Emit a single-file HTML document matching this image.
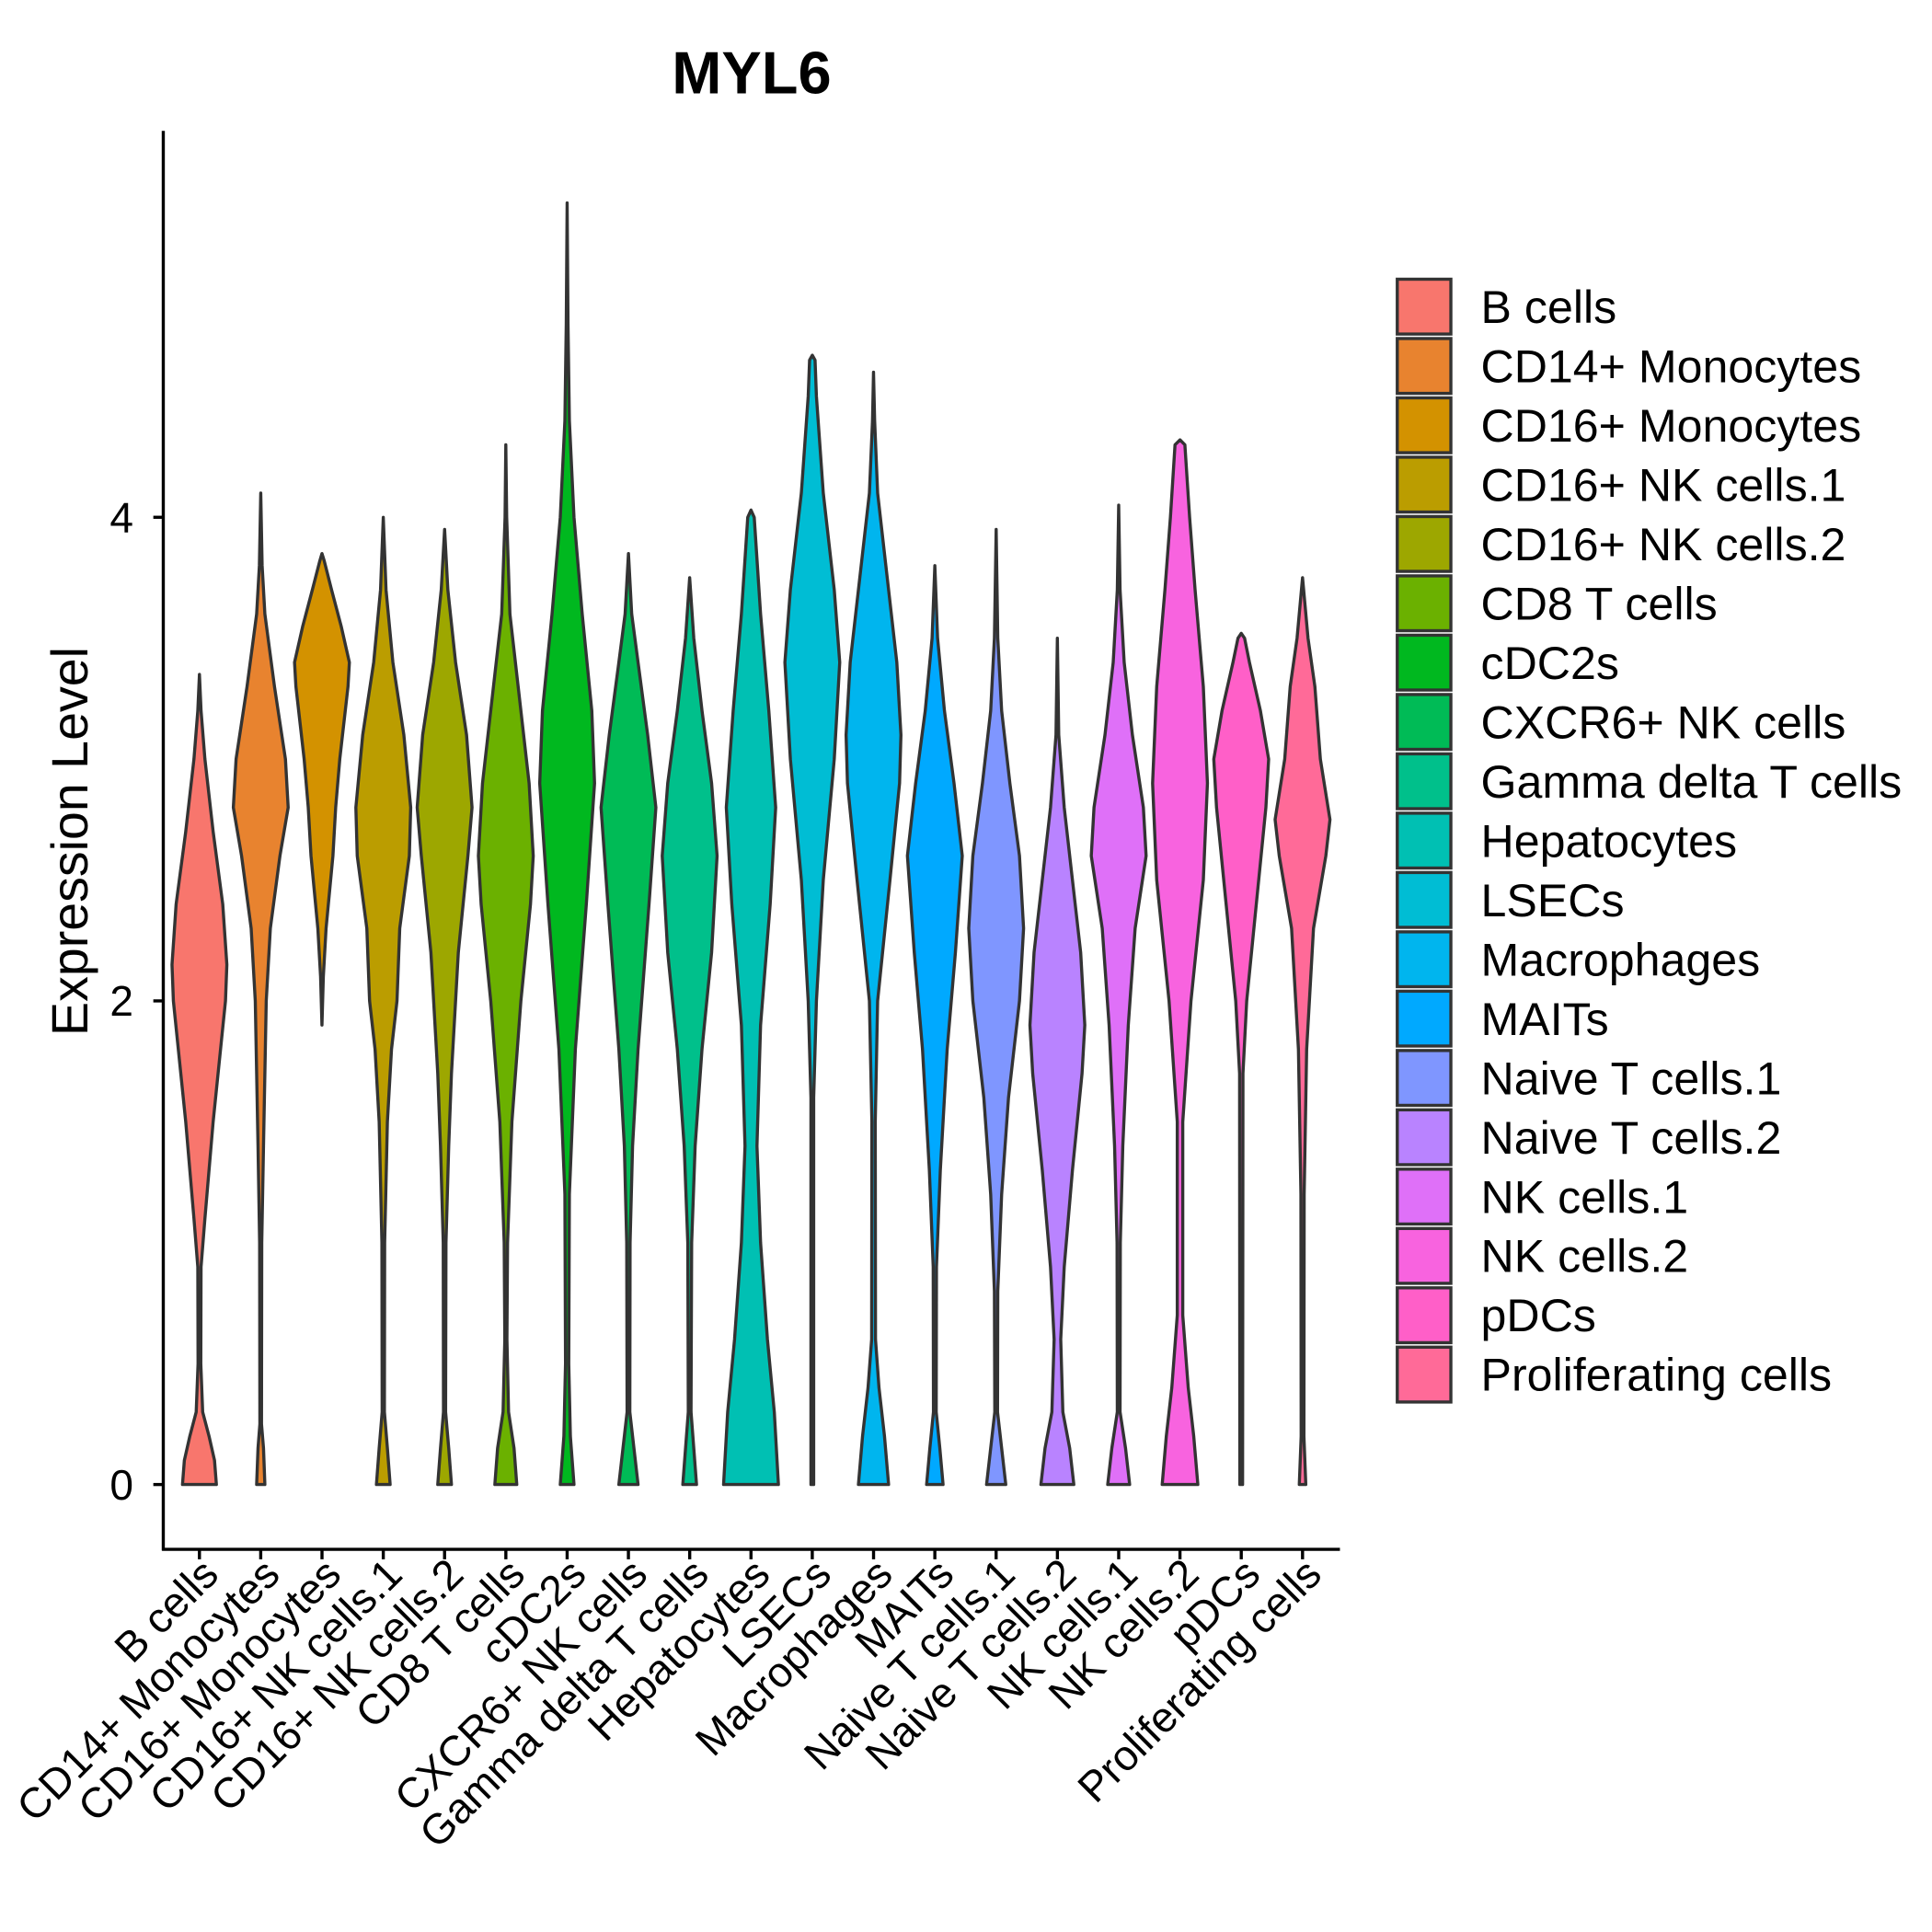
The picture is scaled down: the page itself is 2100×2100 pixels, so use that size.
<!DOCTYPE html>
<html><head><meta charset="utf-8"><style>
html,body{margin:0;padding:0;background:#fff}
svg{display:block;font-family:"Liberation Sans",Arial,sans-serif}
</style></head><body>
<svg id="chart" width="2100" height="2100" viewBox="0 0 1550 1550" xmlns="http://www.w3.org/2000/svg">
<rect width="1550" height="1550" fill="#fff"/>
<text x="603" y="75" text-anchor="middle" font-size="48" font-weight="bold">MYL6</text>
<g id="plot"></g>
<g id="legend"></g>
</svg>
<script>
const categories = ["B cells","CD14+ Monocytes","CD16+ Monocytes","CD16+ NK cells.1","CD16+ NK cells.2","CD8 T cells","cDC2s","CXCR6+ NK cells","Gamma delta T cells","Hepatocytes","LSECs","Macrophages","MAITs","Naive T cells.1","Naive T cells.2","NK cells.1","NK cells.2","pDCs","Proliferating cells"];
const colors = ["#F8766D","#E8832F","#D39200","#BB9D00","#9DA700","#6BB100","#00B81F","#00BB56","#00C08B","#00C0B3","#00BDD4","#00B5EE","#00A9FF","#7F96FF","#B983FF","#DF70F8","#F863DF","#FF5FC8","#FF6A98"];
const yTicks = [0,2,4];
// density profiles: [expression value, relative width]
const profB = [[0,0.62],[0.1,0.55],[0.2,0.35],[0.3,0.12],[0.5,0.05],[0.9,0.06],[1.1,0.2],[1.5,0.5],[2.0,0.95],[2.15,1],[2.4,0.85],[2.7,0.5],[3.0,0.2],[3.2,0.06],[3.35,0]];
const profCD14 = [[0,0.15],[0.15,0.1],[0.25,0.03],[1.0,0.04],[1.4,0.1],[2.0,0.2],[2.3,0.35],[2.6,0.7],[2.8,1],[3.0,0.9],[3.3,0.5],[3.6,0.15],[3.8,0.05],[4.1,0]];
const profCD16M = [[1.9,0],[2.1,0.05],[2.3,0.15],[2.6,0.4],[2.8,0.5],[3.0,0.65],[3.3,0.95],[3.4,1],[3.55,0.7],[3.7,0.35],[3.82,0.08],[3.85,0]];
const profNK1a = [[0,0.25],[0.15,0.15],[0.3,0.04],[1.0,0.05],[1.5,0.15],[1.8,0.3],[2.0,0.5],[2.3,0.6],[2.6,0.95],[2.8,1],[3.1,0.75],[3.4,0.35],[3.7,0.1],[4.0,0]];
const profNK2a = [[0,0.25],[0.15,0.15],[0.3,0.04],[1.0,0.05],[1.4,0.15],[1.7,0.25],[2.2,0.5],[2.6,0.85],[2.8,1],[3.1,0.8],[3.4,0.4],[3.7,0.12],[3.95,0]];
const profCD8 = [[0,0.4],[0.15,0.3],[0.3,0.1],[0.6,0.04],[1.0,0.06],[1.5,0.22],[2.0,0.55],[2.4,0.9],[2.6,1],[2.9,0.85],[3.3,0.45],[3.6,0.15],[4.0,0.03],[4.3,0]];
const profDC = [[0,0.25],[0.2,0.12],[0.5,0.06],[1.2,0.08],[1.8,0.3],[2.4,0.7],[2.9,1],[3.2,0.9],[3.6,0.55],[4.0,0.25],[4.4,0.08],[4.8,0.03],[5.3,0]];
const profCX = [[0,0.35],[0.15,0.2],[0.3,0.05],[1.0,0.06],[1.4,0.15],[1.8,0.35],[2.1,0.55],[2.4,0.75],[2.8,1],[3.1,0.7],[3.4,0.35],[3.6,0.12],[3.85,0]];
const profGD = [[0,0.25],[0.15,0.15],[0.3,0.05],[1.0,0.07],[1.4,0.2],[1.8,0.45],[2.2,0.8],[2.6,1],[2.9,0.8],[3.2,0.45],[3.5,0.15],[3.75,0]];
const profHep = [[0,1],[0.3,0.85],[0.6,0.6],[1.0,0.35],[1.4,0.22],[1.9,0.35],[2.4,0.7],[2.8,0.9],[3.2,0.65],[3.6,0.35],[4.0,0.12],[4.03,0]];
const profLS = [[0,0.05],[1.6,0.05],[2.0,0.15],[2.5,0.4],[3.0,0.8],[3.4,1],[3.7,0.8],[4.1,0.4],[4.5,0.15],[4.65,0.1],[4.67,0]];
const profMac = [[0,0.55],[0.2,0.4],[0.4,0.2],[0.6,0.07],[1.5,0.06],[2.0,0.15],[2.5,0.6],[2.9,0.95],[3.1,1],[3.4,0.85],[3.8,0.45],[4.1,0.15],[4.4,0.04],[4.6,0]];
const profMAIT = [[0,0.3],[0.15,0.18],[0.3,0.05],[0.9,0.06],[1.3,0.2],[1.8,0.45],[2.2,0.75],[2.6,1],[2.9,0.7],[3.2,0.35],[3.5,0.1],[3.8,0]];
const profNT1 = [[0,0.35],[0.15,0.2],[0.3,0.05],[0.8,0.06],[1.2,0.2],[1.6,0.45],[2.0,0.85],[2.3,1],[2.6,0.85],[2.9,0.5],[3.2,0.2],[3.5,0.06],[3.95,0]];
const profNT2 = [[0,0.6],[0.15,0.45],[0.3,0.2],[0.6,0.12],[0.9,0.25],[1.3,0.55],[1.7,0.9],[1.9,1],[2.2,0.85],[2.5,0.55],[2.8,0.25],[3.1,0.05],[3.5,0]];
const profNKc1 = [[0,0.4],[0.15,0.25],[0.3,0.05],[1.0,0.06],[1.4,0.15],[1.9,0.35],[2.3,0.6],[2.6,1],[2.8,0.9],[3.1,0.5],[3.4,0.2],[3.7,0.05],[4.05,0]];
const profNKc2 = [[0,0.65],[0.2,0.5],[0.4,0.3],[0.7,0.1],[1.5,0.1],[2.0,0.4],[2.5,0.85],[2.9,1],[3.3,0.85],[3.7,0.55],[4.0,0.35],[4.3,0.18],[4.32,0]];
const profPDC = [[0,0.05],[1.7,0.06],[2.0,0.2],[2.4,0.55],[2.8,0.9],[3.0,1],[3.2,0.7],[3.4,0.3],[3.5,0.12],[3.52,0]];
const profProl = [[0,0.12],[0.2,0.05],[1.2,0.06],[1.8,0.15],[2.3,0.4],[2.6,0.85],[2.75,1],[3.0,0.65],[3.3,0.45],[3.5,0.2],[3.75,0]];
const profiles = [profB,profCD14,profCD16M,profNK1a,profNK2a,profCD8,profDC,profCX,profGD,profHep,profLS,profMac,profMAIT,profNT1,profNT2,profNKc1,profNKc2,profPDC,profProl];

const NS="http://www.w3.org/2000/svg";
const L=131,R=1075,T=105,B=1243;
const y = v => 1191 - v*194;
const x = i => 160 + i*(1045-160)/18;
const halfW = 22;
const plot=document.getElementById('plot');
function mk(tag,attrs,parent){const e=document.createElementNS(NS,tag);for(const k in attrs)e.setAttribute(k,attrs[k]);parent.appendChild(e);return e;}

profiles.forEach((p,i)=>{
  const cx=x(i);
  let right=p.map(d=>[cx+d[1]*halfW,y(d[0])]);
  let left=p.slice().reverse().map(d=>[cx-d[1]*halfW,y(d[0])]);
  const pts=right.concat(left);
  const dstr='M'+pts.map(q=>q[0].toFixed(1)+','+q[1].toFixed(1)).join('L')+'Z';
  const v=mk('path',{d:dstr,fill:colors[i],stroke:'#333',"stroke-width":2.5,"stroke-linejoin":"round"},plot);
  
  
  const t=mk('line',{x1:cx,x2:cx,y1:B,y2:B+8,stroke:'#000',"stroke-width":2.5},plot);
  
  
  const lb=mk('text',{x:cx+17,y:B+22,"text-anchor":"end","font-size":34,transform:`rotate(-45 ${cx+17} ${B+22})`},plot);
  lb.textContent=categories[i];
  
  
});
yTicks.forEach(v=>{
  const t=mk('line',{x1:L-8,x2:L,y1:y(v),y2:y(v),stroke:'#000',"stroke-width":2.5},plot);
  
  
  const lb=mk('text',{x:L-24,y:y(v)+12,"text-anchor":"end","font-size":34},plot);
  lb.textContent=v;
  
  
});
const ya=mk('line',{x1:L,x2:L,y1:T,y2:B+1,stroke:'#000',"stroke-width":2.5},plot);


const xa=mk('line',{x1:L-1,x2:R,y1:B,y2:B,stroke:'#000',"stroke-width":2.5},plot);


const yt=mk('text',{x:70,y:675,"text-anchor":"middle","font-size":41,transform:'rotate(-90 70 675)'},plot);
yt.textContent='Expression Level';



const leg=document.getElementById('legend');
categories.forEach((c,i)=>{
  const ty=224+i*47.6;
  const r=mk('rect',{x:1121,y:ty,width:43,height:44,fill:colors[i],stroke:'#333',"stroke-width":2.5},leg);
  
  
  const t=mk('text',{x:1188,y:ty+35,"font-size":37},leg);
  t.textContent=c;
  
  
});
</script>
</body></html>
